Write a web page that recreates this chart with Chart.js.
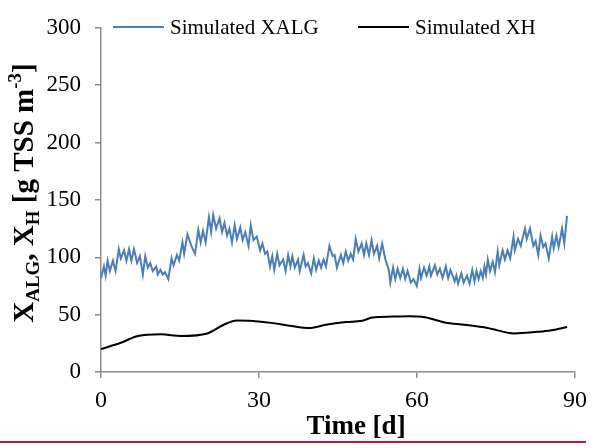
<!DOCTYPE html>
<html>
<head>
<meta charset="utf-8">
<script src="https://cdn.jsdelivr.net/npm/chart.js@4.4.1/dist/chart.umd.min.js"></script>
<style>
  html, body { margin: 0; padding: 0; background: #fff; }
  #wrap { position: relative; width: 595px; height: 448px; }
  #rule { position: absolute; left: 0; top: 441px; width: 586px; height: 2px; background: #c0143c; }
</style>
</head>
<body>
<div id="wrap">
  <canvas id="xChart" width="595" height="448"></canvas>
  <div id="rule"></div>
</div>
<script>
// time axis and value axis ticks
const timeTicks = [0, 30, 60, 90];
const valueTicks = [0, 50, 100, 150, 200, 250, 300];

// Simulated XALG (algae biomass), daily swings
const xalgDays = [
  0, 0.56, 0.88, 1.26, 1.69, 2.26, 2.76, 3.38, 3.76, 4.38, 4.83, 5.32, 5.77, 6.26, 6.86, 7.39, 7.95,
  8.4, 8.89, 9.34, 9.83, 10.47, 10.77, 11.28, 11.71, 12.16, 12.78, 13.4, 13.78, 14.42, 14.85, 15.47,
  15.79, 16.41, 17.16, 17.86, 18.48, 18.93, 19.36, 19.87, 20.49, 20.92, 21.3, 21.86, 22.5, 22.99,
  23.44, 23.93, 24.38, 24.87, 25.38, 25.81, 26.45, 26.88, 27.39, 28.01, 28.44, 28.95, 29.57, 30.21,
  30.64, 31.15, 31.58, 32.09, 32.52, 32.89, 33.46, 33.89, 34.59, 35.06, 35.53, 35.96, 36.33, 36.79,
  37.41, 37.73, 38.48, 38.85, 39.29, 39.91, 40.41, 40.85, 41.35, 41.79, 42.24, 42.73, 43.37, 43.98,
  44.36, 44.79, 45.55, 46.0, 46.48, 46.94, 47.42, 47.88, 48.36, 48.87, 49.49, 49.94, 50.38, 50.88,
  51.37, 51.82, 52.44, 52.82, 53.38, 54.0, 54.64, 54.94, 55.45, 55.88, 56.33, 56.82, 57.33, 57.76,
  58.21, 58.83, 59.34, 59.96, 60.47, 60.77, 61.33, 61.84, 62.35, 62.65, 63.4, 63.85, 64.34, 64.85,
  65.47, 65.92, 66.35, 67.16, 67.48, 67.8, 68.42, 68.86, 69.49, 69.98, 70.49, 70.92, 71.3, 71.7,
  72.1, 72.5, 72.8, 73.1, 73.44, 73.87, 74.38, 74.81, 75.32, 75.62, 76.26, 76.69, 77.2, 77.69,
  78.33, 78.57, 79.19, 79.7, 80.51, 80.83, 81.45, 82.09, 82.52, 83.03, 83.46, 83.97, 84.4, 85.02,
  85.66, 85.96, 86.47, 86.9, 87.54, 87.97, 88.48
];
const xalgValues = [
  82, 92, 84, 97, 88, 97, 88, 107, 99, 106, 97, 107, 97, 107, 95, 101, 85,
  101, 91, 95, 88, 92, 85, 89, 85, 87, 81, 99, 93, 102, 97, 113,
  103, 120, 110, 103, 124, 113, 123, 113, 135, 122, 137, 125, 134, 122,
  130, 119, 125, 113, 128, 116, 126, 115, 122, 110, 128, 115, 118, 106,
  112, 103, 105, 92, 101, 89, 103, 93, 98, 88, 102, 92, 101, 91,
  98, 88, 102, 92, 95, 86, 99, 89, 97, 91, 98, 92, 110, 101,
  102, 91, 102, 95, 105, 97, 103, 98, 116, 105, 112, 102, 112, 102,
  115, 103, 110, 99, 112, 98, 89, 78, 91, 81, 90, 82, 90, 81,
  88, 78, 81, 75, 90, 82, 91, 84, 92, 84, 93, 85, 90, 82,
  92, 82, 89, 79, 84, 77, 86, 78, 84, 77, 89, 79, 88, 81,
  88, 82, 92, 85, 98, 88, 96, 87, 105, 93, 106, 98, 106, 99,
  118, 106, 116, 110, 125, 116, 125, 110, 114, 102, 119, 109, 112, 99,
  118, 108, 119, 109, 125, 112, 136
];

// Simulated XH (heterotrophic biomass), smooth
const xhDays = [0, 3.9, 7.0, 11.4, 15.2, 20.2, 23.3, 25.8, 28.3, 32.7, 35.8, 39.6, 42.7,
  46.5, 49.6, 51.5, 55.3, 58.4, 61.5, 65.3, 69, 73.4, 78.4, 82.8, 85.3, 88.5];
const xhValues = [20, 25.7, 31.4, 32.8, 31.4, 33.6, 41.2, 44.9, 44.6, 42.6, 40.4, 38.4, 41.2,
  43.5, 44.6, 47.5, 48.3, 48.6, 47.7, 43.2, 41.2, 38.4, 33.6, 35, 36.2, 39.2];

const seriesNames = ['Simulated XALG', 'Simulated XH'];
const seriesColors = ['#4a7ebb', '#000000'];

function toPoints(days, values) {
  return days.map((d, i) => ({ x: d, y: values[i] }));
}

const SERIF = "'Liberation Serif', 'Times New Roman', serif";
const AXIS_GRAY = '#8c8c8c';

// legend drawn inside the plot, along the top edge
const insideLegend = {
  id: 'insideLegend',
  afterDraw(chart) {
    const ctx = chart.ctx;
    const slots = [113, 358];
    const ly = 27;
    ctx.save();
    ctx.font = '21px ' + SERIF;
    ctx.textBaseline = 'middle';
    ctx.textAlign = 'left';
    chart.data.datasets.forEach((ds, i) => {
      const x0 = slots[i];
      ctx.strokeStyle = ds.borderColor;
      ctx.lineWidth = 2;
      ctx.beginPath();
      ctx.moveTo(x0, ly);
      ctx.lineTo(x0 + 51, ly);
      ctx.stroke();
      ctx.fillStyle = '#000';
      ctx.fillText(ds.label, x0 + 57, ly + 1);
    });
    ctx.restore();
  }
};

// axis titles; the y title needs subscripts and a superscript
const axisTitles = {
  id: 'axisTitles',
  afterDraw(chart) {
    const ctx = chart.ctx;
    ctx.save();
    ctx.fillStyle = '#000';

    ctx.font = 'bold 27px ' + SERIF;
    ctx.textAlign = 'center';
    ctx.textBaseline = 'alphabetic';
    ctx.fillText('Time [d]', 356, 434);

    const parts = [
      { t: 'X' }, { t: 'ALG', sub: true }, { t: ', X' }, { t: 'H', sub: true },
      { t: ' [g TSS m' }, { t: '-3', sup: true }, { t: ']' }
    ];
    const big = 'bold 29px ' + SERIF;
    const small = 'bold 19px ' + SERIF;
    let total = 0;
    parts.forEach(p => {
      ctx.font = (p.sub || p.sup) ? small : big;
      p.w = ctx.measureText(p.t).width;
      total += p.w;
    });
    ctx.translate(33, 193);
    ctx.rotate(-Math.PI / 2);
    ctx.textAlign = 'left';
    let x = -total / 2;
    parts.forEach(p => {
      ctx.font = (p.sub || p.sup) ? small : big;
      const dy = p.sub ? 6 : (p.sup ? -12 : 0);
      ctx.fillText(p.t, x, dy);
      x += p.w;
    });
    ctx.restore();
  }
};

new Chart(document.getElementById('xChart'), {
  type: 'line',
  data: {
    datasets: [
      {
        label: seriesNames[0],
        data: toPoints(xalgDays, xalgValues),
        borderColor: seriesColors[0],
        borderWidth: 2,
        pointRadius: 0,
        tension: 0,
        fill: false
      },
      {
        label: seriesNames[1],
        data: toPoints(xhDays, xhValues),
        borderColor: seriesColors[1],
        borderWidth: 2,
        pointRadius: 0,
        cubicInterpolationMode: 'monotone',
        fill: false
      }
    ]
  },
  options: {
    responsive: false,
    devicePixelRatio: 1,
    animation: false,
    layout: { padding: { top: 17, right: 15, left: 0, bottom: 0 } },
    plugins: {
      legend: { display: false },
      tooltip: { enabled: false }
    },
    scales: {
      x: {
        type: 'linear',
        min: timeTicks[0],
        max: timeTicks[timeTicks.length - 1],
        afterBuildTicks: s => { s.ticks = timeTicks.map(v => ({ value: v })); },
        afterFit: s => { s.height = 76; },
        ticks: { color: '#000', font: { family: SERIF, size: 24 }, padding: 8, maxRotation: 0 },
        grid: { drawOnChartArea: false, drawTicks: true, tickLength: 6, color: AXIS_GRAY, lineWidth: 1.5 },
        border: { color: AXIS_GRAY, width: 1.5 }
      },
      y: {
        min: valueTicks[0],
        max: valueTicks[valueTicks.length - 1],
        afterBuildTicks: s => { s.ticks = valueTicks.map(v => ({ value: v })); },
        afterFit: s => { s.width = 101; },
        ticks: { color: '#000', font: { family: SERIF, size: 23 }, padding: 14 },
        grid: { drawOnChartArea: false, drawTicks: true, tickLength: 6, color: AXIS_GRAY, lineWidth: 1.5 },
        border: { color: AXIS_GRAY, width: 1.5 }
      }
    }
  },
  plugins: [insideLegend, axisTitles]
});
</script>
</body>
</html>
